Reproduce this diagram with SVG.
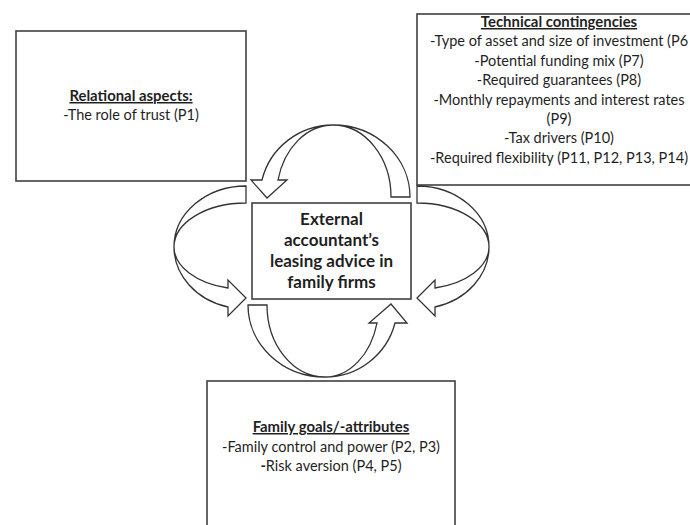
<svg xmlns="http://www.w3.org/2000/svg" width="690" height="525" viewBox="0 0 690 525">
<style>
.box{fill:#fff;stroke:#404040;stroke-width:1.6}
.arr{fill:#fff;stroke:#333;stroke-width:1.3;stroke-linejoin:miter}
text{font-family:Lato,"Open Sans","Liberation Sans",sans-serif;fill:#1f1f1f;text-anchor:middle}
.t{font-size:14.5px}
.h{font-size:14.9px;font-weight:bold;text-decoration:underline}
.c{font-size:17px;font-weight:bold}
</style>
<rect width="690" height="525" fill="#fff"/>
<g id="relational">
<rect class="box" x="16" y="31" width="230" height="150"/>
<text class="h" x="131" y="101">Relational aspects:</text>
<text class="t" x="131" y="120">-The role of trust (P1)</text>
</g>
<g id="technical">
<rect class="box" x="417" y="14" width="290" height="171"/>
<text class="h" x="559" y="27">Technical contingencies</text>
<text class="t" x="559" y="46.4">-Type of asset and size of investment (P6</text>
<text class="t" x="559" y="65.8">-Potential funding mix (P7)</text>
<text class="t" x="559" y="85.2">-Required guarantees (P8)</text>
<text class="t" x="559" y="104.6">-Monthly repayments and interest rates</text>
<text class="t" x="559" y="124">(P9)</text>
<text class="t" x="559" y="143.4">-Tax drivers (P10)</text>
<text class="t" x="559" y="162.8">-Required flexibility (P11, P12, P13, P14)</text>
</g>
<g id="center">
<rect class="box" x="252" y="203" width="159" height="96"/>
<text class="c" x="331.5" y="225">External</text>
<text class="c" x="331.5" y="246">accountant’s</text>
<text class="c" x="331.5" y="267">leasing advice in</text>
<text class="c" x="331.5" y="288">family firms</text>
</g>
<g id="family">
<rect class="box" x="207" y="381" width="248" height="160"/>
<text class="h" x="331" y="432">Family goals/-attributes</text>
<text class="t" x="331" y="452">-Family control and power (P2, P3)</text>
<text class="t" x="331" y="471"><tspan font-weight="bold">-</tspan>Risk aversion (P4, P5)</text>
</g>
<g id="connectors">
<path class="arr" d="M410,197 A77 72 0 0 0 333,125 A73 72 0 0 0 262,180 L251,180 L267,198 L287,180 L278,180 A56.6 72 0 0 1 333,125 A58 72 0 0 1 391,197 Z"/>
<path class="arr" d="M248,305 A77 72 0 0 0 325,377 A72.3 72 0 0 0 395,323 L407,323 L391,304 L369,323 L377,323 A53.7 72 0 0 1 325,377 A58 72 0 0 1 267,305 Z"/>
<path class="arr" d="M417,186 A72 61 0 0 1 489,247 A72 62 0 0 1 435,307 L435,316 L417,298 L435,280 L435,288 A72 42.4 0 0 0 489,247 A72 44 0 0 0 417,203 Z"/>
<path class="arr" d="M246,186 A72 61 0 0 0 174,247 A72 62 0 0 0 228,307 L228,316 L246,298 L228,280 L228,288 A72 42.4 0 0 1 174,247 A72 44 0 0 1 246,203 Z"/>
</g>
</svg>
